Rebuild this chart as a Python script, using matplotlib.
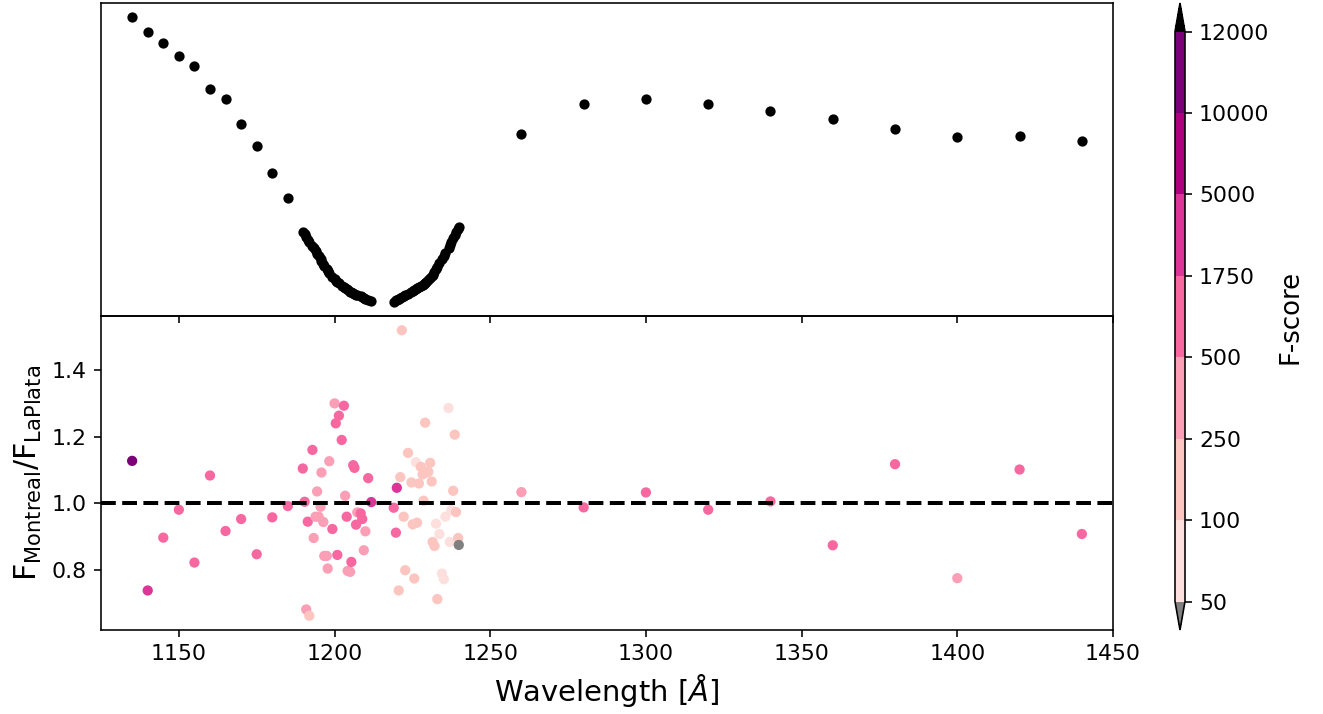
import matplotlib
matplotlib.use('Agg')
import matplotlib.pyplot as plt
import numpy as np
from matplotlib.colors import ListedColormap, BoundaryNorm

# top panel: flux (arbitrary units) vs wavelength
wave_top = [1135, 1140, 1145, 1150, 1155, 1160, 1165, 1170, 1175, 1180, 1185,
            1189.8, 1190.4, 1190.9, 1191.4, 1191.9, 1192.9, 1193.3, 1193.9, 1194.4, 1194.9,
            1195.5, 1195.8, 1196.4, 1196.7, 1197.5, 1197.8, 1198.3, 1199.3, 1200.0, 1200.4,
            1200.9, 1201.4, 1202.3, 1203.0, 1203.4, 1203.9, 1204.2, 1205.0, 1205.4, 1206.0,
            1206.4, 1206.9, 1207.3, 1208.4, 1208.9, 1209.4, 1209.9, 1210.8, 1211.8,
            1219.0, 1219.7, 1220.0, 1220.6, 1221.1, 1221.6, 1222.2, 1222.7, 1223.6, 1224.7,
            1225.1, 1225.6, 1226.1, 1226.5, 1227.1, 1227.7, 1228.3, 1228.6, 1229.1, 1229.4,
            1230.1, 1230.7, 1231.2, 1231.5, 1232.1, 1232.6, 1233.0, 1233.7, 1234.5, 1235.1,
            1235.6, 1236.6, 1237.0, 1237.5, 1238.1, 1238.6, 1239.0, 1239.7, 1239.9,
            1260, 1280, 1300, 1320, 1340, 1360, 1380, 1400, 1420, 1440]
flux_top = [3.00, 2.85, 2.74, 2.61, 2.51, 2.28, 2.18, 1.93, 1.71, 1.44, 1.19,
            0.85, 0.83, 0.80, 0.77, 0.75, 0.71, 0.69, 0.66, 0.63, 0.61,
            0.58, 0.56, 0.53, 0.51, 0.48, 0.46, 0.44, 0.40, 0.38, 0.36,
            0.35, 0.34, 0.31, 0.30, 0.29, 0.28, 0.27, 0.25, 0.25, 0.24,
            0.23, 0.22, 0.22, 0.21, 0.20, 0.19, 0.18, 0.17, 0.16,
            0.15, 0.17, 0.17, 0.18, 0.19, 0.20, 0.21, 0.22, 0.23, 0.25,
            0.26, 0.27, 0.28, 0.29, 0.30, 0.31, 0.32, 0.33, 0.34, 0.35,
            0.37, 0.39, 0.41, 0.42, 0.45, 0.48, 0.50, 0.54, 0.58, 0.61,
            0.64, 0.69, 0.72, 0.75, 0.79, 0.82, 0.85, 0.88, 0.90,
            1.83, 2.13, 2.18, 2.13, 2.06, 1.98, 1.88, 1.80, 1.81, 1.76]

# bottom panel: flux ratio, same wavelengths
ratio = [1.127, 0.737, 0.896, 0.980, 0.821, 1.083, 0.916, 0.952, 0.846, 0.957, 0.991,
         1.104, 1.004, 0.680, 0.944, 0.661, 1.160, 0.895, 0.959, 1.035, 0.959,
         0.989, 1.092, 0.943, 0.841, 0.841, 0.803, 1.126, 0.922, 1.300, 1.240,
         0.844, 1.263, 1.190, 1.293, 1.022, 0.959, 0.796, 0.793, 0.823, 1.114,
         1.106, 0.935, 0.972, 0.969, 0.952, 0.858, 0.915, 1.075, 1.003,
         0.986, 0.911, 1.046, 0.737, 1.078, 1.520, 0.959, 0.798, 1.151, 1.062,
         0.936, 0.773, 1.123, 0.941, 1.059, 1.109, 1.086, 1.007, 1.242, 1.092,
         1.094, 1.121, 1.065, 0.883, 0.871, 0.938, 0.711, 0.907, 0.788, 0.771,
         0.959, 1.286, 0.883, 0.979, 1.037, 1.206, 0.973, 0.895, 0.874,
         1.033, 0.987, 1.032, 0.980, 1.005, 0.873, 1.117, 0.774, 1.101, 0.907]
fscore = [11000, 3000, 1000, 1100, 900, 1000, 950, 1000, 900, 1000, 1050,
          1100, 1000, 380, 900, 200, 1000, 400, 350, 420, 380,
          400, 350, 380, 420, 400, 350, 380, 900, 350, 1000,
          900, 1100, 1000, 1100, 400, 1000, 380, 400, 900, 1000,
          1100, 900, 420, 1000, 900, 400, 380, 1000, 2500,
          900, 1000, 2500, 180, 200, 180, 160, 190, 170, 200,
          150, 180, 80, 170, 160, 180, 200, 190, 150, 170,
          160, 180, 150, 170, 200, 80, 150, 70, 80, 75,
          70, 60, 80, 75, 150, 170, 180, 160, 45,
          400, 1000, 1100, 900, 1000, 950, 1000, 300, 1000, 900]

bounds = [50, 100, 250, 500, 1750, 5000, 10000, 12000]
colors = ['#fde0dd', '#fcc5c0', '#fa9fb5', '#f768a1', '#dd3497', '#ae017e', '#7a0177']

cmap = ListedColormap(colors)
cmap.set_under('gray')
cmap.set_over('black')
norm = BoundaryNorm(bounds, cmap.N)

plt.rcParams['xtick.labelsize'] = 11
plt.rcParams['ytick.labelsize'] = 11

fig = plt.figure(figsize=(1323 / 144, 714 / 144), dpi=144)
ax2 = fig.add_axes([101 / 1323, 84 / 714, 1012 / 1323, 314 / 714])
ax1 = fig.add_axes([101 / 1323, 398 / 714, 1012 / 1323, 313 / 714], sharex=ax2)
ax1.patch.set_alpha(0)

ax1.scatter(wave_top, flux_top, s=17, color='k')
ax1.set_yticks([])
ax1.tick_params(labelbottom=False)

sc = ax2.scatter(wave_top, ratio, c=fscore, cmap=cmap, norm=norm, s=17)
ax2.axhline(1.0, color='k', ls='--', lw=2)
ax2.set_xlim(1125, 1450)
ax2.set_yticks([0.8, 1.0, 1.2, 1.4])
ax2.set_xlabel(r'Wavelength [$\AA$]', fontsize=14.5)
ax2.set_ylabel(r'F$_{\rm Montreal}$/F$_{\rm LaPlata}$', fontsize=15)

cax = fig.add_axes([1175 / 1323, 84 / 714, 10 / 1323, 627 / 714])
cb = fig.colorbar(sc, cax=cax, extend='both', ticks=bounds)
cb.set_label('F-score', fontsize=13)

plt.savefig('out.png', dpi=144)
